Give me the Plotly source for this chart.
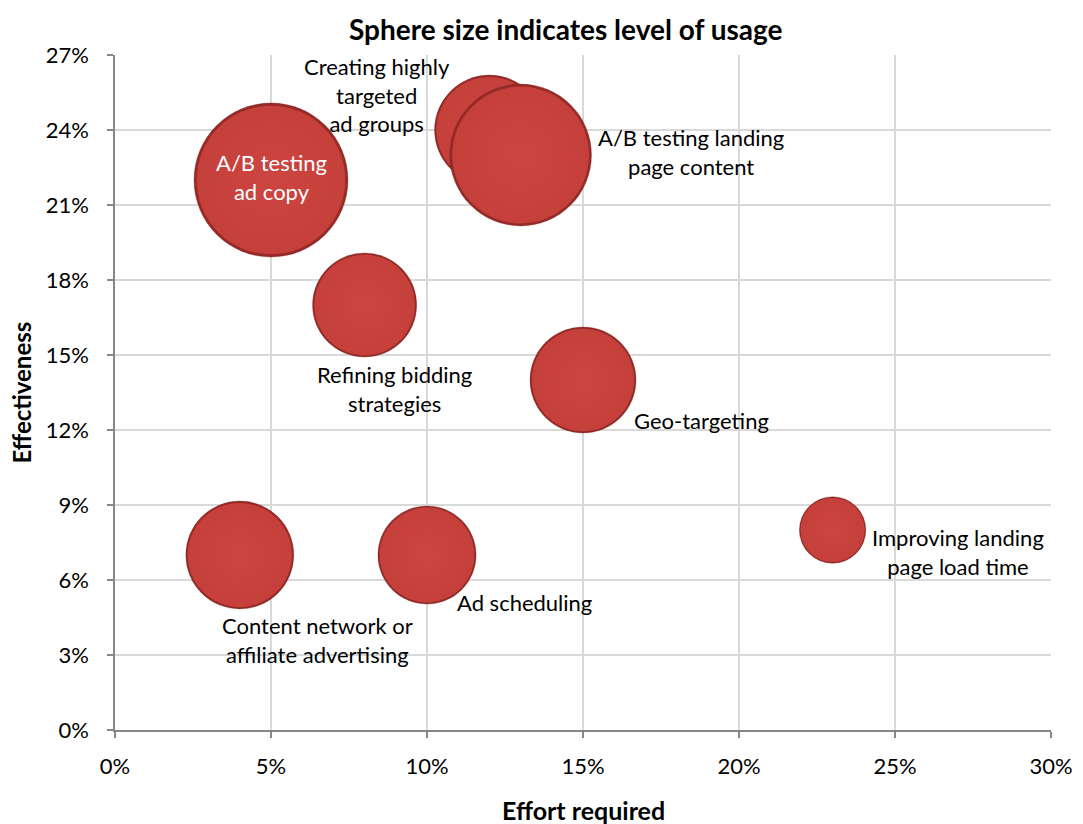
import plotly.graph_objects as go

labels = [
    "A/B testing<br>ad copy",
    "Creating highly<br>targeted<br>ad groups",
    "A/B testing landing<br>page content",
    "Refining bidding<br>strategies",
    "Geo-targeting",
    "Content network or<br>affiliate advertising",
    "Ad scheduling",
    "Improving landing<br>page load time",
]
effort = [0.05, 0.12, 0.13, 0.08, 0.15, 0.04, 0.10, 0.23]
effectiveness = [0.22, 0.24, 0.23, 0.17, 0.14, 0.07, 0.07, 0.08]
usage = [59, 30, 50, 27, 28, 29, 24, 11]

x_ticks = [0, 0.05, 0.10, 0.15, 0.20, 0.25, 0.30]
y_ticks = [0, 0.03, 0.06, 0.09, 0.12, 0.15, 0.18, 0.21, 0.24, 0.27]

# label offsets (pixels) and colours
offsets = [(0, -3), (-112, -35), (170, -3), (30, 84), (118, 40), (78, 85), (97, 47), (125, 22)]
label_colors = ["white"] + ["black"] * 7

FONT = "Lato, Open Sans, sans-serif"
max_diam = 154
sizeref = 2 * max(usage) / (max_diam ** 2)

fig = go.Figure()
for i in range(len(labels)):
    # dark rim
    fig.add_trace(go.Scatter(
        x=[effort[i]], y=[effectiveness[i]], mode="markers",
        marker=dict(size=[usage[i]], sizemode="area", sizeref=sizeref,
                    color="#962926", opacity=1,
                    gradient=dict(type="radial", color="#c43e3a"),
                    line=dict(width=0.6, color="rgba(110,30,28,0.5)")),
        hoverinfo="skip", showlegend=False,
    ))
    # main face
    fig.add_trace(go.Scatter(
        x=[effort[i]], y=[effectiveness[i]], mode="markers",
        marker=dict(size=[usage[i]], sizemode="area", sizeref=sizeref / (0.965 ** 2),
                    color="#c53f3b", opacity=1,
                    gradient=dict(type="radial", color="#cc4541"),
                    line=dict(width=0)),
        text=[labels[i]], hoverinfo="text", showlegend=False,
    ))

for lab, xv, yv, (dx, dy), c in zip(labels, effort, effectiveness, offsets, label_colors):
    fig.add_annotation(x=xv, y=yv, text=lab, showarrow=False,
                       xshift=dx, yshift=-dy, align="center",
                       font=dict(family=FONT, size=22, color=c))

# axis titles
fig.add_annotation(xref="paper", yref="paper", x=0.5, y=0, yshift=-80,
                   text="<b>Effort required</b>", showarrow=False,
                   xanchor="center", yanchor="middle",
                   font=dict(family=FONT, size=25, color="black"))
fig.add_annotation(xref="paper", yref="paper", x=0, y=0.5, xshift=-94,
                   text="<b>Effectiveness</b>", showarrow=False, textangle=-90,
                   xanchor="center", yanchor="middle",
                   font=dict(family=FONT, size=24, color="black"))

axis_common = dict(
    showgrid=True, gridcolor="#d9d9d9", gridwidth=1.5,
    showline=True, linecolor="#868686", linewidth=1.5,
    ticks="outside", ticklen=6, tickcolor="#868686", tickwidth=1.5,
    zeroline=False, tickformat=".0%", automargin=False,
    tickfont=dict(family=FONT, size=22, color="black"),
)

fig.update_layout(
    width=1083, height=824,
    margin=dict(l=107, r=40, t=47, b=102),
    paper_bgcolor="white", plot_bgcolor="white",
    xaxis=dict(range=[0, 0.30], tickvals=x_ticks, ticklabelstandoff=10, **axis_common),
    yaxis=dict(range=[0, 0.27], tickvals=y_ticks, ticklabelstandoff=14, **axis_common),
)
fig.add_annotation(xref="paper", yref="paper", x=0.5, y=1, xshift=-17, yshift=45,
                   text="<b>Sphere size indicates level of usage</b>", showarrow=False,
                   xanchor="center", yanchor="top",
                   font=dict(family=FONT, size=28, color="black"))

fig.write_html("out.html")
